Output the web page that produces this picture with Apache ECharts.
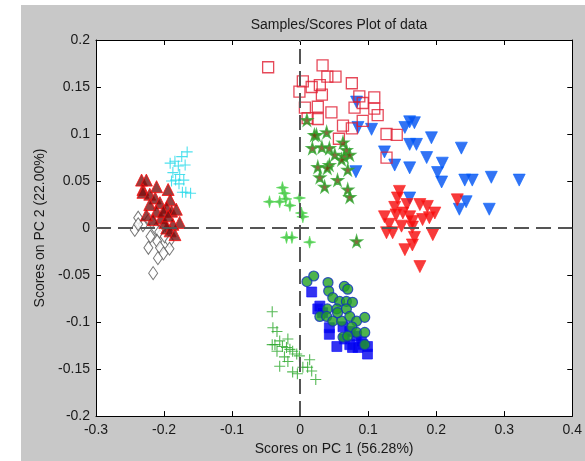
<!DOCTYPE html>
<html>
<head>
<meta charset="utf-8">
<script src="https://cdn.jsdelivr.net/npm/echarts@6/dist/echarts.min.js"></script>
<style>
  html, body { margin: 0; padding: 0; background: #fff; }
  #chart { width: 585px; height: 461px; }
</style>
</head>
<body>
<div id="chart"></div>
<script>
// PCA scores, one array of [PC1, PC2] pairs per sample class
const classDarkRedTri = [
  [-0.233,0.051],[-0.226,0.051],[-0.231,0.041],[-0.231,0.038],[-0.211,0.044],[-0.221,0.036],
  [-0.213,0.032],[-0.194,0.041],[-0.206,0.027],[-0.221,0.025],[-0.191,0.030],[-0.196,0.022],
  [-0.189,0.018],[-0.211,0.018],[-0.204,0.011],[-0.182,0.020],[-0.177,0.006],[-0.187,0.004],
  [-0.196,0.000],[-0.191,-0.003],[-0.184,-0.007],[-0.199,0.006],[-0.216,0.009],[-0.226,0.014],
  [-0.201,0.018],[-0.194,0.013]
];
const classCyanPlus = [
  [-0.166,0.081],[-0.174,0.076],[-0.184,0.071],[-0.191,0.069],[-0.169,0.067],[-0.179,0.066],
  [-0.187,0.059],[-0.177,0.057],[-0.183,0.051],[-0.171,0.051],[-0.178,0.047],[-0.168,0.038],
  [-0.161,0.037],[-0.173,0.038],[-0.189,0.050]
];
const classDiamond = [
  [-0.238,0.011],[-0.222,0.009],[-0.243,-0.002],[-0.217,0.006],[-0.231,0.003],[-0.212,-0.001],
  [-0.202,0.001],[-0.207,-0.004],[-0.220,-0.009],[-0.199,-0.009],[-0.210,-0.014],[-0.192,-0.014],
  [-0.223,-0.021],[-0.206,-0.021],[-0.192,-0.022],[-0.201,-0.027],[-0.209,-0.032],[-0.216,-0.048],
  [-0.238,0.004]
];
const classRedSquare = [
  [-0.047,0.171],[0.033,0.173],[0.040,0.161],[0.052,0.161],[0.004,0.156],[0.017,0.150],
  [0.029,0.152],[-0.001,0.145],[0.032,0.142],[0.076,0.154],[0.087,0.140],[0.109,0.139],
  [0.092,0.133],[0.080,0.128],[0.109,0.127],[0.026,0.129],[0.007,0.128],[0.114,0.120],
  [0.046,0.123],[0.026,0.116],[0.011,0.117],[0.063,0.109],[0.076,0.106],[0.092,0.114],
  [0.127,0.100],[0.142,0.099],[0.057,0.095],[0.127,0.075]
];
const classBlueDownTri = [
  [0.083,0.134],[0.085,0.107],[0.105,0.105],[0.124,0.081],[0.139,0.067],[0.154,0.107],
  [0.161,0.113],[0.168,0.112],[0.161,0.089],[0.171,0.089],[0.193,0.096],[0.186,0.075],
  [0.161,0.064],[0.209,0.069],[0.202,0.059],[0.208,0.049],[0.237,0.085],[0.242,0.051],
  [0.253,0.051],[0.281,0.054],[0.322,0.051],[0.161,0.032],[0.234,0.020],[0.244,0.028],
  [0.278,0.020],[0.082,0.060]
];
const classRedDownTri = [
  [0.146,0.039],[0.143,0.032],[0.139,0.022],[0.124,0.012],[0.151,0.016],[0.161,0.012],
  [0.165,0.007],[0.176,0.025],[0.187,0.023],[0.198,0.016],[0.190,0.011],[0.180,0.009],
  [0.231,0.030],[0.149,0.002],[0.127,-0.005],[0.136,-0.005],[0.165,0.001],[0.168,-0.010],
  [0.195,-0.007],[0.165,-0.018],[0.154,-0.023],[0.176,-0.041],[0.131,0.004],[0.157,0.025],
  [0.141,0.014]
];
const classOliveStar = [
  [0.010,0.115],[0.024,0.099],[0.039,0.102],[0.018,0.085],[0.032,0.086],[0.043,0.085],
  [0.063,0.091],[0.068,0.083],[0.065,0.076],[0.061,0.073],[0.026,0.065],[0.043,0.067],
  [0.040,0.064],[0.070,0.062],[0.029,0.054],[0.055,0.051],[0.036,0.044],[0.070,0.041],
  [0.073,0.033],[0.083,-0.014],[0.021,0.099],[0.051,0.078],[0.073,0.078]
];
const classGreenSpark = [
  [-0.026,0.043],[-0.023,0.037],[-0.045,0.028],[-0.030,0.028],[-0.015,0.024],[-0.001,0.032],
  [0.002,0.016],[0.004,0.012],[-0.020,-0.010],[-0.012,-0.010],[0.014,-0.015],[-0.021,0.031]
];
const classGreenPlus = [
  [-0.041,-0.089],[-0.040,-0.106],[-0.034,-0.110],[-0.041,-0.124],[-0.037,-0.124],[-0.030,-0.120],
  [-0.018,-0.118],[-0.026,-0.126],[-0.020,-0.127],[-0.015,-0.129],[-0.011,-0.131],[-0.005,-0.134],
  [-0.001,-0.136],[-0.034,-0.131],[-0.023,-0.137],[-0.030,-0.147],[-0.018,-0.142],[-0.011,-0.153],
  [-0.004,-0.155],[0.004,-0.148],[0.011,-0.148],[0.014,-0.140],[0.017,-0.152],[0.023,-0.161]
];
const classBlueSquare = [
  [0.017,-0.068],[0.029,-0.083],[0.026,-0.086],[0.033,-0.090],[0.043,-0.106],[0.043,-0.113],
  [0.054,-0.126],[0.065,-0.118],[0.073,-0.124],[0.077,-0.127],[0.085,-0.127],[0.092,-0.124],
  [0.099,-0.126],[0.099,-0.134],[0.090,-0.121],[0.073,-0.110],[0.083,-0.115],[0.063,-0.105]
];
const classGreenCircle = [
  [0.010,-0.057],[0.020,-0.051],[0.041,-0.058],[0.042,-0.067],[0.065,-0.062],[0.070,-0.065],
  [0.048,-0.074],[0.058,-0.078],[0.068,-0.078],[0.077,-0.079],[0.040,-0.086],[0.054,-0.086],
  [0.068,-0.086],[0.029,-0.094],[0.039,-0.094],[0.048,-0.099],[0.061,-0.099],[0.073,-0.094],
  [0.083,-0.099],[0.095,-0.095],[0.076,-0.105],[0.063,-0.116],[0.083,-0.111],[0.095,-0.111],
  [0.070,-0.115],[0.095,-0.124],[0.055,-0.090]
];

const xTicks = { min: -0.3, max: 0.4, step: 0.1 };
const yTicks = { min: -0.2, max: 0.2, step: 0.05 };

const titleText = 'Samples/Scores Plot of data';
const xName = 'Scores on PC 1 (56.28%)';
const yName = 'Scores on PC 2 (22.00%)';

const FONT = '"Liberation Sans", Arial, Helvetica, sans-serif';

const STAR5 = 'path://M50,0L61,35L98,35L68,57L79,91L50,70L21,91L32,57L2,35L39,35Z';
const SPARK4 = 'path://M50,0L60,40L100,50L60,60L50,100L40,60L0,50L40,40Z';
const PLUS = 'path://M45,0H55V45H100V55H55V100H45V55H0V45H45Z';

const fmt = v => String(Math.round(v * 100) / 100);

function baseAxis(extra) {
  return Object.assign({
    type: 'value',
    axisLine: { show: true, onZero: false, lineStyle: { color: '#000', width: 1 } },
    axisTick: { show: true, inside: true, length: 5, lineStyle: { color: '#000' } },
    splitLine: { show: false },
    axisLabel: { show: false }
  }, extra);
}

const chart = echarts.init(document.getElementById('chart'), null, { renderer: 'canvas' });

chart.setOption({
  backgroundColor: '#c8c8c8',
  animation: false,
  graphic: [
    { type: 'rect', left: 0, top: 0, shape: { width: 21, height: 461 }, style: { fill: '#fff' }, silent: true },
    { type: 'rect', left: 0, top: 0, shape: { width: 585, height: 5 }, style: { fill: '#fff' }, silent: true }
  ],
  title: {
    text: titleText,
    left: 334,
    top: 13,
    textAlign: 'center',
    textStyle: { fontFamily: FONT, fontSize: 14, fontWeight: 'normal', color: '#1a1a1a' }
  },
  grid: { left: 96, right: 12, top: 40, bottom: 44, show: true, backgroundColor: '#fff', borderWidth: 0 },
  xAxis: [
    baseAxis({
      position: 'bottom', min: xTicks.min, max: xTicks.max, interval: xTicks.step,
      name: xName, nameLocation: 'middle', nameGap: 23,
      nameTextStyle: { fontFamily: FONT, fontSize: 14, color: '#1a1a1a' },
      axisLabel: { show: true, margin: 7, formatter: fmt, fontFamily: FONT, fontSize: 14, color: '#1a1a1a' }
    }),
    baseAxis({ position: 'top', min: xTicks.min, max: xTicks.max, interval: xTicks.step })
  ],
  yAxis: [
    baseAxis({
      position: 'left', min: yTicks.min, max: yTicks.max, interval: yTicks.step,
      name: yName, nameLocation: 'middle', nameGap: 44,
      nameTextStyle: { fontFamily: FONT, fontSize: 14, color: '#1a1a1a' },
      axisLabel: { show: true, margin: 6, formatter: fmt, fontFamily: FONT, fontSize: 14, color: '#1a1a1a' }
    }),
    baseAxis({ position: 'right', min: yTicks.min, max: yTicks.max, interval: yTicks.step })
  ],
  series: [
    {
      type: 'scatter', data: [], silent: true,
      markLine: {
        silent: true, symbol: 'none', label: { show: false },
        lineStyle: { color: '#555', width: 2, type: [15, 7] },
        data: [{ xAxis: 0 }, { yAxis: 0 }]
      }
    },
    { type: 'scatter', data: classDiamond, symbol: 'diamond', symbolSize: [9, 13],
      itemStyle: { color: '#fff', borderColor: '#555', borderWidth: 1 } },
    { type: 'scatter', data: classDarkRedTri, symbol: 'triangle', symbolSize: 12,
      itemStyle: { color: '#7a1010', borderColor: '#ff1010', borderWidth: 1 } },
    { type: 'scatter', data: classCyanPlus, symbol: PLUS, symbolSize: 11,
      itemStyle: { color: '#22d8e8' } },
    { type: 'scatter', data: classBlueDownTri, symbol: 'triangle', symbolRotate: 180, symbolSize: 12,
      itemStyle: { color: '#0050f0', borderColor: '#0a64ff', borderWidth: 0.8 } },
    { type: 'scatter', data: classRedSquare, symbol: 'rect', symbolSize: 11,
      itemStyle: { color: 'rgba(255,255,255,0)', borderColor: '#e01c30', borderWidth: 1.3 } },
    { type: 'scatter', data: classRedDownTri, symbol: 'triangle', symbolRotate: 180, symbolSize: 12,
      itemStyle: { color: '#f50a0a', borderColor: '#ff2020', borderWidth: 0.8 } },
    { type: 'scatter', data: classOliveStar, symbol: STAR5, symbolSize: 11,
      itemStyle: { color: '#6a4412', borderColor: '#2ea82e', borderWidth: 1.5 } },
    { type: 'scatter', data: classGreenSpark, symbol: SPARK4, symbolSize: 12,
      itemStyle: { color: '#33bb33', borderColor: '#55dd55', borderWidth: 0.8 } },
    { type: 'scatter', data: classGreenPlus, symbol: PLUS, symbolSize: 11,
      itemStyle: { color: '#2ca82c' } },
    { type: 'scatter', data: classBlueSquare, symbol: 'rect', symbolSize: 10,
      itemStyle: { color: '#0000ee', borderColor: '#1010ff', borderWidth: 0.8 } },
    { type: 'scatter', data: classGreenCircle, symbol: 'circle', symbolSize: 10,
      itemStyle: { color: '#22a022', borderColor: '#1030c0', borderWidth: 1.2 } }
  ]
});
</script>
</body>
</html>
